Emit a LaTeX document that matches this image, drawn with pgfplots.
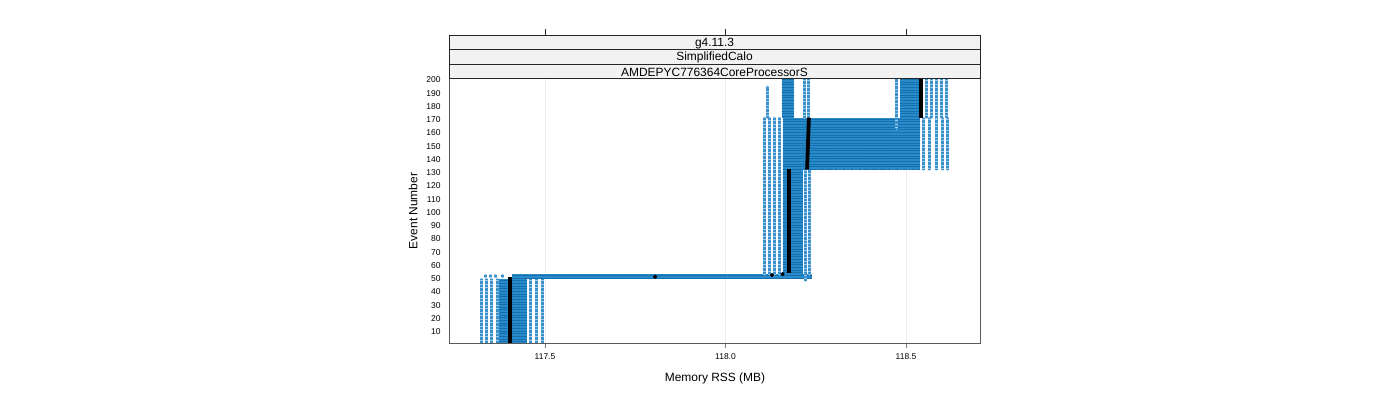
\documentclass[border=0pt]{standalone}
\usepackage{pgfplots}
\pgfplotsset{compat=1.18}
\usepackage{fontspec}
\setmainfont{Liberation Sans}
\usetikzlibrary{patterns.meta,calc}

\definecolor{cb}{HTML}{2A8BCB}
\definecolor{cbdark}{HTML}{126EAC}
\definecolor{cblight}{HTML}{9CCAE8}
\definecolor{cbmid}{HTML}{3A90CB}
\definecolor{stripfill}{HTML}{F2F2F2}

\pgfplotsset{
  col/.style={draw=cblight, line width=3bp, line cap=round, mark=none,
    postaction={draw=cbmid, line width=3bp, line cap=butt, dash pattern=on 0.8bp off 0.6bp}},
  dense/.style={fill=cb, draw=none, mark=none,
    postaction={pattern={Lines[angle=0,distance=2.65bp,line width=0.8bp]}, pattern color=cbdark}},
  med/.style={black, line width=3.8bp, mark=none},
}

\begin{document}
\begin{tikzpicture}
\useasboundingbox (0,0) rectangle (1400bp,400bp);
\begin{axis}[
  at={(449bp,57bp)}, anchor=south west,
  scale only axis, width=531bp, height=265bp,
  xmin=117.234, xmax=118.705, ymin=0, ymax=200,
  xtick={117.5,118,118.5}, xticklabels={117.5,118.0,118.5},
  ytick={10,20,...,200},
  xtick pos=bottom, ytick pos=left,
  tick align=outside, major tick length=5bp,
  ytick style={draw=none},
  xtick style={gray},
  axis line style={gray!70!black},
  xmajorgrids, grid style={gray!15},
  tick label style={font=\fontsize{8.5}{9}\selectfont},
  /pgf/number format/assume math mode=true,
  /pgf/number format/1000 sep={},
  yticklabel style={yshift=-2bp},
  xticklabel style={yshift=-2.5bp},
]
% region 1: events 1-48
\addplot[col] coordinates {(117.325,0) (117.325,48.3)};
\addplot[col] coordinates {(117.339,0) (117.339,48.3)};
\addplot[col] coordinates {(117.353,0) (117.353,48.3)};
\addplot[col] coordinates {(117.367,0) (117.367,48.3)};
\addplot[col] coordinates {(117.461,0) (117.461,48.3)};
\addplot[col] coordinates {(117.475,0) (117.475,48.3)};
\addplot[col] coordinates {(117.492,0) (117.492,48.3)};
\addplot[col] coordinates {(117.336,49.8) (117.336,51.2)};
\addplot[col] coordinates {(117.350,49.8) (117.350,51.2)};
\addplot[col] coordinates {(117.364,49.8) (117.364,51.2)};
\addplot[col] coordinates {(117.381,49.8) (117.381,51.2)};
\addplot[dense] coordinates {(117.373,0) (117.450,0) (117.450,48.3) (117.373,48.3)};
% jump at events 49-52
\addplot[dense] coordinates {(117.409,48.5) (118.240,48.5) (118.240,52) (117.409,52)};
% region 2: events 53-130
\addplot[col] coordinates {(118.108,52) (118.108,170)};
\addplot[col] coordinates {(118.122,52) (118.122,170)};
\addplot[col] coordinates {(118.136,52) (118.136,170)};
\addplot[col] coordinates {(118.150,52) (118.150,170)};
\addplot[col] coordinates {(118.221,47) (118.221,131)};
\addplot[col] coordinates {(118.234,52) (118.234,131)};
\addplot[dense] coordinates {(118.159,52) (118.214,52) (118.214,131) (118.159,131)};
% region 3: events 131-170
\addplot[dense] coordinates {(118.159,131) (118.539,131) (118.539,170) (118.159,170)};
\addplot[col] coordinates {(118.548,131) (118.548,170)};
\addplot[col] coordinates {(118.565,131) (118.565,170)};
\addplot[col] coordinates {(118.584,131) (118.584,170)};
\addplot[col] coordinates {(118.602,131) (118.602,170)};
\addplot[col] coordinates {(118.616,131) (118.616,170)};
% region 4: events 171-200
\addplot[col] coordinates {(118.116,170) (118.116,193.5)};
\addplot[col] coordinates {(118.220,170) (118.220,199)};
\addplot[col] coordinates {(118.230,170) (118.230,199)};
\addplot[dense] coordinates {(118.156,170) (118.190,170) (118.190,199) (118.156,199)};
\addplot[col] coordinates {(118.475,162) (118.475,200)};
\addplot[dense] coordinates {(118.483,170) (118.536,170) (118.536,200) (118.483,200)};
\addplot[col] coordinates {(118.557,170) (118.557,200)};
\addplot[col] coordinates {(118.571,170) (118.571,200)};
\addplot[col] coordinates {(118.584,170) (118.584,200)};
\addplot[col] coordinates {(118.598,170) (118.598,200)};
\addplot[col] coordinates {(118.612,170) (118.612,200)};
% medians
\addplot[med] coordinates {(117.404,0) (117.404,50)};
\addplot[med] coordinates {(118.176,52.5) (118.176,131)};
\addplot[med] coordinates {(118.226,131) (118.231,170)};
\addplot[med] coordinates {(118.542,170) (118.542,200)};
\addplot[only marks, mark=*, mark size=1.9bp, black] coordinates {(117.805,50) (118.129,51.3) (118.158,52)};
\coordinate (tl) at (rel axis cs:0,1);
\coordinate (tr) at (rel axis cs:1,1);
\coordinate (t1) at (axis cs:117.5,200);
\coordinate (t2) at (axis cs:118,200);
\coordinate (t3) at (axis cs:118.5,200);
\end{axis}
% strips
\begin{scope}[every node/.style={font=\fontsize{12}{14}\selectfont, inner sep=0pt}]
\draw[gray!30!black, fill=stripfill] (tl) rectangle ([yshift=14bp]tr);
\draw[gray!30!black, fill=stripfill] ([yshift=14bp]tl) rectangle ([yshift=29bp]tr);
\draw[gray!30!black, fill=stripfill] ([yshift=29bp]tl) rectangle ([yshift=43bp]tr);
\node at ($(tl)!0.5!(tr)+(0,5.8bp)$) {AMDEPYC776364CoreProcessorS};
\node at ($(tl)!0.5!(tr)+(0,20.2bp)$) {SimplifiedCalo};
\node at ($(tl)!0.5!(tr)+(0,34.5bp)$) {g4.11.3};
\end{scope}
\foreach \t in {t1,t2,t3} \draw[gray!30!black] ([yshift=43bp]\t) -- ([yshift=49bp]\t);
\node[font=\fontsize{12}{14}\selectfont] at (715bp,21.5bp) {Memory RSS (MB)};
\node[font=\fontsize{12}{14}\selectfont, rotate=90] at (413bp,189bp) {Event Number};
\end{tikzpicture}
\end{document}
